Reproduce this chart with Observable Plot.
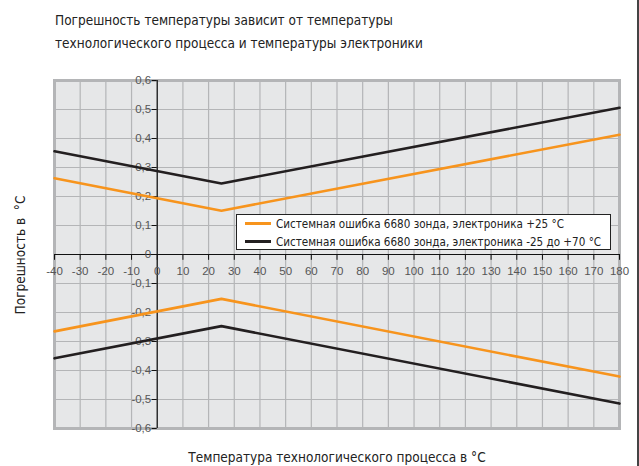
<!DOCTYPE html>
<html>
<head>
<meta charset="utf-8">
<script src="https://cdn.jsdelivr.net/npm/d3@7"></script>
<script src="https://cdn.jsdelivr.net/npm/@observablehq/plot@0.6"></script>
<style>
  html, body { margin: 0; padding: 0; background: #fff; }
  #wrap { position: relative; width: 639px; height: 466px; overflow: hidden; }
  .cond { font-family: "Liberation Sans Narrow", "DejaVu Sans Condensed", "Roboto Condensed", "Liberation Sans", sans-serif; color: #222; }
  #title { position: absolute; left: 55px; top: 9px; font-size: 13.5px; line-height: 23px; }
  #legend { position: absolute; left: 236px; top: 214px; width: 375px; height: 36px; background: #fff; border: 1px solid #222; box-sizing: border-box; }
  .item { position: absolute; left: 8px; font-size: 13px; white-space: nowrap; display: flex; align-items: center; }
  .swatch { display: inline-block; width: 26px; height: 3px; margin-right: 5px; }
  .ltext { display: inline-block; transform: scaleX(0.89); transform-origin: left center; }
  #ylab { position: absolute; left: 20px; top: 255px; transform: translate(-50%, -50%) rotate(-90deg); font-size: 13.5px; white-space: pre; }
  #xlab { position: absolute; left: 337px; top: 449px; transform: translateX(-50%); font-size: 13.5px; white-space: nowrap; }
  #edge { position: absolute; left: 637px; top: 0; width: 1.5px; height: 466px; background: #444; }
  svg { position: absolute; left: 0; top: 0; }
</style>
</head>
<body>
<div id="wrap"></div>
<script>
// ---- data ----
const temps = [-40, 25, 180];
const orangeUpper = [0.263, 0.151, 0.413];
const blackUpper = [0.356, 0.245, 0.506];
const orangeLower = [-0.265, -0.153, -0.421];
const blackLower = [-0.358, -0.247, -0.514];
const xTicks = [-40, -30, -20, -10, 0, 10, 20, 30, 40, 50, 60, 70, 80, 90, 100, 110, 120, 130, 140, 150, 160, 170, 180];
const yTicks = [-0.6, -0.5, -0.4, -0.3, -0.2, -0.1, 0, 0.1, 0.2, 0.3, 0.4, 0.5, 0.6];
const seriesNames = ["Системная ошибка 6680 зонда, электроника +25 °C", "Системная ошибка 6680 зонда, электроника -25 до +70 °C"];
const seriesColors = ["#f7941d", "#231f20"];
const titleLines = ["Погрешность температуры зависит от температуры", "технологического процесса и температуры электроники"];
const yTitle = "Погрешность в  °C";
const xTitle = "Температура технологического процесса в °C";

const lines = [];
[[orangeUpper, 0, "ou"], [orangeLower, 0, "ol"], [blackUpper, 1, "bu"], [blackLower, 1, "bl"]].forEach(([vals, s, id]) => {
  temps.forEach((t, i) => lines.push({x: t, y: vals[i], s, id}));
});

const fmt = d => d === 0 ? "0" : d3.format(".1f")(d).replace(".", ",").replace("−", "-");
const tickFont = "Liberation Sans, Arial, sans-serif";

const chart = Plot.plot({
  width: 639,
  height: 466,
  marginLeft: 54,
  marginRight: 20,
  marginTop: 80,
  marginBottom: 38,
  style: {background: "transparent", overflow: "visible"},
  x: {domain: [-40, 180]},
  y: {domain: [-0.6, 0.6]},
  axis: null,
  marks: [
    Plot.frame({fill: "#e6e7e8", stroke: null}),
    Plot.gridX(xTicks, {stroke: "#b4b5b7", strokeOpacity: 1, strokeWidth: 1.2}),
    Plot.gridY(yTicks, {stroke: "#b4b5b7", strokeOpacity: 1, strokeWidth: 1.2}),
    Plot.frame({stroke: "#b4b5b7", strokeWidth: 3}),
    Plot.ruleX([0], {stroke: "#111", strokeWidth: 1.2}),
    Plot.ruleY([0], {stroke: "#111", strokeWidth: 1.2}),
    Plot.ruleX(xTicks, {x: d => d, y1: 0, y2: -0.02, stroke: "#111", strokeWidth: 1}),
    Plot.ruleY(yTicks, {y: d => d, x1: -2, x2: 0, stroke: "#111", strokeWidth: 1}),
    Plot.text(xTicks, {x: d => d, y: 0, dy: 17, text: d => String(d), fill: "#555", fontSize: 11.5, fontFamily: tickFont}),
    Plot.text(yTicks, {x: 0, y: d => d, dx: -6, textAnchor: "end", text: fmt, fill: "#555", fontSize: 11.5, fontFamily: tickFont}),
    Plot.line(lines, {x: "x", y: "y", z: "id", stroke: d => seriesColors[d.s], strokeWidth: 2.6, strokeLinejoin: "miter"})
  ]
});

const wrap = document.getElementById("wrap");
wrap.appendChild(chart);

const title = document.createElement("div");
title.id = "title"; title.className = "cond";
title.innerHTML = titleLines.join("<br>");
wrap.appendChild(title);

const legend = document.createElement("div");
legend.id = "legend"; legend.className = "cond";
seriesNames.forEach((name, i) => {
  const it = document.createElement("div");
  it.className = "item";
  it.style.top = (i === 0 ? 1 : 19) + "px";
  const sw = document.createElement("span");
  sw.className = "swatch"; sw.style.background = seriesColors[i];
  it.appendChild(sw);
  const tx = document.createElement("span");
  tx.className = "ltext"; tx.textContent = name;
  it.appendChild(tx);
  legend.appendChild(it);
});
wrap.appendChild(legend);

const yl = document.createElement("div");
yl.id = "ylab"; yl.className = "cond"; yl.textContent = yTitle;
wrap.appendChild(yl);
const xl = document.createElement("div");
xl.id = "xlab"; xl.className = "cond"; xl.textContent = xTitle;
wrap.appendChild(xl);
const edge = document.createElement("div");
edge.id = "edge";
wrap.appendChild(edge);
</script>
</body>
</html>
